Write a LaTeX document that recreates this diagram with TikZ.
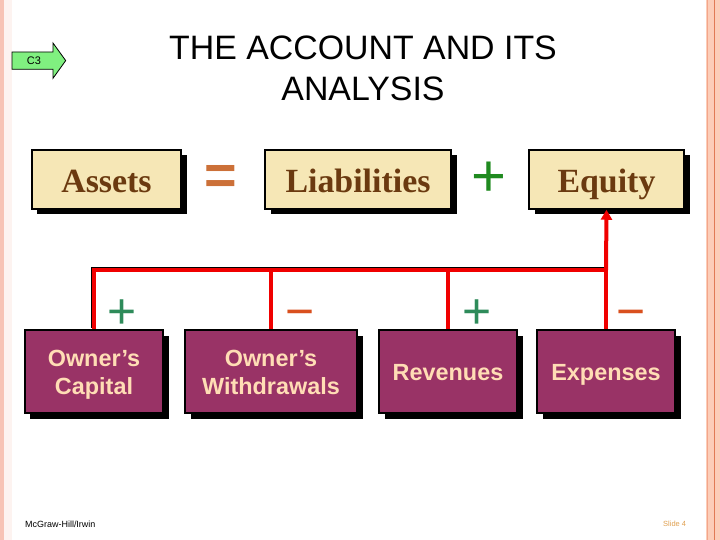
\documentclass[tikz,border=0pt]{standalone}
\usepackage{fontspec}
\setmainfont{Liberation Serif}
\setsansfont{Liberation Sans}
\usetikzlibrary{arrows.meta,shadows}
\definecolor{tanfill}{HTML}{F6E7B6}
\definecolor{brownt}{HTML}{6B3A10}
\definecolor{purp}{HTML}{993366}
\definecolor{peach}{HTML}{FFDDB5}
\definecolor{redl}{HTML}{F00000}
\definecolor{greenp}{HTML}{1F8A1F}
\definecolor{tealp}{HTML}{2E8B5A}
\definecolor{orangem}{HTML}{D9501E}
\definecolor{eqc}{HTML}{CC7038}
\definecolor{arrowg}{HTML}{80F080}
\definecolor{slidec}{HTML}{E0A050}
\definecolor{bordl}{HTML}{F7C3B5}
\definecolor{bordf}{HTML}{FDF3F0}
\definecolor{bordr}{HTML}{FCCDB8}
\definecolor{bordline}{HTML}{E07A55}
\definecolor{bordline2}{HTML}{F3A58A}
\tikzset{
  hardshadow/.style={general shadow={shadow xshift=5.5bp, shadow yshift=-5.5bp, fill=black}},
  topbox/.style={draw=black, line width=1.5bp, fill=tanfill, minimum height=59bp, inner sep=0pt,
    text height=32bp, text depth=5bp,
    text=brownt, font=\fontsize{34}{40}\selectfont\bfseries, hardshadow},
  botbox/.style={draw=black, line width=1.5bp, fill=purp, minimum height=83bp, inner sep=0pt,
    text depth=0bp,
    text=peach, align=center, font=\sffamily\bfseries\fontsize{23.5}{28}\selectfont, hardshadow},
  oneline/.style={text height=17.5bp},
  twoline/.style={text height=45bp},
  sign/.style={inner sep=0pt, font=\sffamily\fontsize{50}{50}\selectfont},
  bigsign/.style={inner sep=0pt, font=\sffamily\bfseries\fontsize{56}{56}\selectfont},
  redline/.style={draw=redl, line width=4bp},
  edgeline/.style={draw=black, line width=4bp, transform canvas={xshift=-1.2bp, yshift=1.2bp}},
}
\begin{document}
\begin{tikzpicture}[x=1bp,y=-1bp]
\useasboundingbox (0,0) rectangle (720,540);
\fill[white] (0,0) rectangle (720,540);
% borders
\fill[bordf] (3.5,0) rectangle (12,540);
\fill[bordl] (0,0) rectangle (3.5,540);
\fill[bordr] (706,0) rectangle (720,540);
\draw[bordline2, line width=0.8bp] (707.2,0) -- (707.2,540);
\draw[bordline, line width=1bp] (714.5,0) -- (714.5,540);

% C3 arrow
\filldraw[fill=arrowg, draw=black, line width=0.8bp]
  (12,52) -- (53,52) -- (53,43) -- (65.7,60.6) -- (53,78.3) -- (53,69.3) -- (12,69.3) -- cycle;
\node[inner sep=0pt, font=\sffamily\fontsize{11}{11}\selectfont] (c3) at (34,60.6) {C3};

% title
\node[align=center, inner sep=0pt, font=\sffamily\fontsize{34}{41}\selectfont] (title) at (363,68)
  {THE ACCOUNT AND ITS\\ANALYSIS};

% top row
\node[topbox, minimum width=149bp] (assets) at (106.5,179.5) {Assets};
\node[topbox, minimum width=186bp] (liab) at (358,179.5) {Liabilities};
\node[topbox, minimum width=155bp] (eq) at (606.5,179.5) {Equity};
\node[bigsign, text=eqc] (eqsign) at (220.5,179.5) {=};
\node[inner sep=0pt, font=\sffamily\fontsize{60}{60}\selectfont, text=greenp] (plustop) at (489,179) {+};

% bottom row
\node[botbox, twoline, minimum width=138bp] (cap) at (94,371.5) {Owner’s\\Capital};
\node[botbox, twoline, minimum width=172bp] (wd) at (271,371.5) {Owner's\\Withdrawals};
\node[botbox, oneline, minimum width=138bp] (rev) at (448,371.5) {Revenues};
\node[botbox, oneline, minimum width=138bp] (exp) at (606,371.5) {Expenses};

% connectors
\coordinate (j) at (606,270);
\draw[edgeline] (cap.north) |- (j);
\draw[redline] (cap.north) |- (j);
\draw[redline] (wd.north) -- (wd.north |- j);
\draw[redline] (rev.north) -- (rev.north |- j);
\draw[redline] (exp.north) -- (j);
\draw[redline, -{Triangle[width=11bp,length=10bp]}] (j) -- (eq.south);

% signs
\node[sign, text=tealp] (p1) at (122,314) {+};
\node[sign, text=orangem] (m1) at (300.5,319) {−};
\node[sign, text=tealp] (p2) at (477,314) {+};
\node[sign, text=orangem] (m2) at (631,319) {−};

% footer
\node[anchor=west, inner sep=0pt, font=\sffamily\fontsize{9}{9}\selectfont] (mh) at (25,524) {McGraw-Hill/Irwin};
\node[anchor=west, inner sep=0pt, text=slidec, font=\sffamily\fontsize{7.5}{7.5}\selectfont] (sl) at (663,524) {Slide 4};
\end{tikzpicture}
\end{document}
